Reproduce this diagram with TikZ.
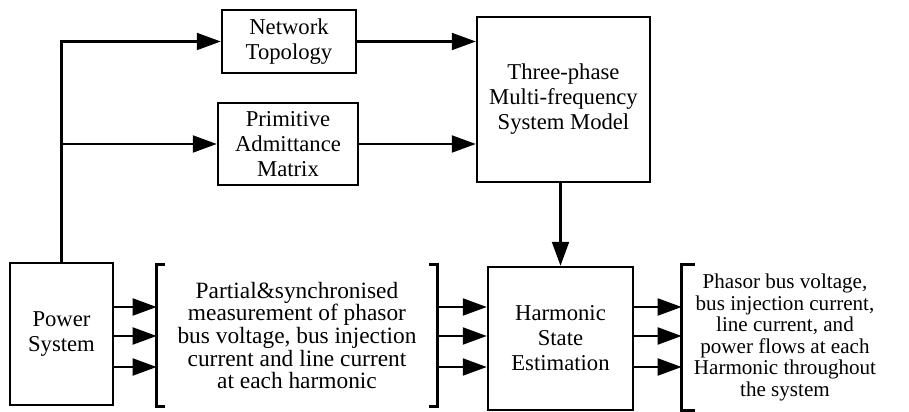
\documentclass[tikz,border=0pt]{standalone}
\usepackage{fontspec}
\setmainfont{Liberation Serif}
\usetikzlibrary{calc, shapes, arrows.meta}

\begin{document}
\begin{tikzpicture}
			\tikzset{blk/.style={draw, line width=1.4pt, align=center, inner sep=2pt,
					font=\fontsize{12.9}{14.2}\selectfont}}
			\tikzset{txt/.style={align=center, inner sep=0pt,
					font=\fontsize{13.3}{12.9}\selectfont}}
			\tikzset{arr/.style={line width=1.2pt, -{Triangle[length=0.48cm, width=0.34cm]}}}
			\tikzset{brk/.style={line width=1.4pt}}
			\useasboundingbox (0,0) rectangle (18.18,-8.24);
			% blocks
			\node[blk, minimum width=2.68cm, minimum height=1.26cm] (topo) at (5.78,-0.83) {Network\\Topology};
			\node[blk, minimum width=2.80cm, minimum height=1.64cm] (prim) at (5.76,-2.88) {Primitive\\Admittance\\Matrix};
			\node[blk, minimum width=3.46cm, minimum height=3.30cm] (model) at (11.27,-1.99) {Three-phase\\Multi-frequency\\System Model};
			\node[blk, minimum width=2.06cm, minimum height=2.84cm] (power) at (1.23,-6.68) {Power\\System};
			\node[blk, minimum width=2.90cm, minimum height=2.86cm] (hse) at (11.21,-6.77) {Harmonic\\State\\Estimation};
			\node[txt, minimum width=5.60cm, minimum height=2.82cm] (meas) at (5.94,-6.71) {Partial\&synchronised\\measurement of phasor\\bus voltage, bus injection\\current and line current\\at each harmonic};
			\node[txt, minimum width=4.12cm, minimum height=2.90cm, font=\fontsize{12}{12.2}\selectfont] (result) at (15.70,-6.75) {Phasor bus voltage,\\bus injection current,\\line current, and\\power flows at each\\Harmonic throughout\\the system};
			% brackets
			\draw[brk] ($(meas.north west)+(0.16,0)$) -| (meas.south west) -- ++(0.16,0);
			\draw[brk] ($(meas.north east)+(-0.16,0)$) -| (meas.south east) -- ++(-0.16,0);
			\draw[brk] ($(result.north west)+(0.26,0)$) -| (result.south west) -- ++(0.26,0);
			% connectors
			\draw[arr] (power.north) |- (topo.west);
			\draw[arr] (power.north |- prim.west) -- (prim.west);
			\draw[arr] (topo.east) -- (topo.east -| model.west);
			\draw[arr] (prim.east) -- (prim.east -| model.west);
			\draw[arr] (hse.north |- model.south) -- (hse.north);
			\foreach \y in {-6.14,-6.72,-7.34} {
				\draw[arr] (power.east |- 0,\y) -- (meas.west |- 0,\y);
				\draw[arr] (meas.east |- 0,\y) -- (hse.west |- 0,\y);
				\draw[arr] (hse.east |- 0,\y) -- (result.west |- 0,\y);
			}
\end{tikzpicture}
\end{document}
